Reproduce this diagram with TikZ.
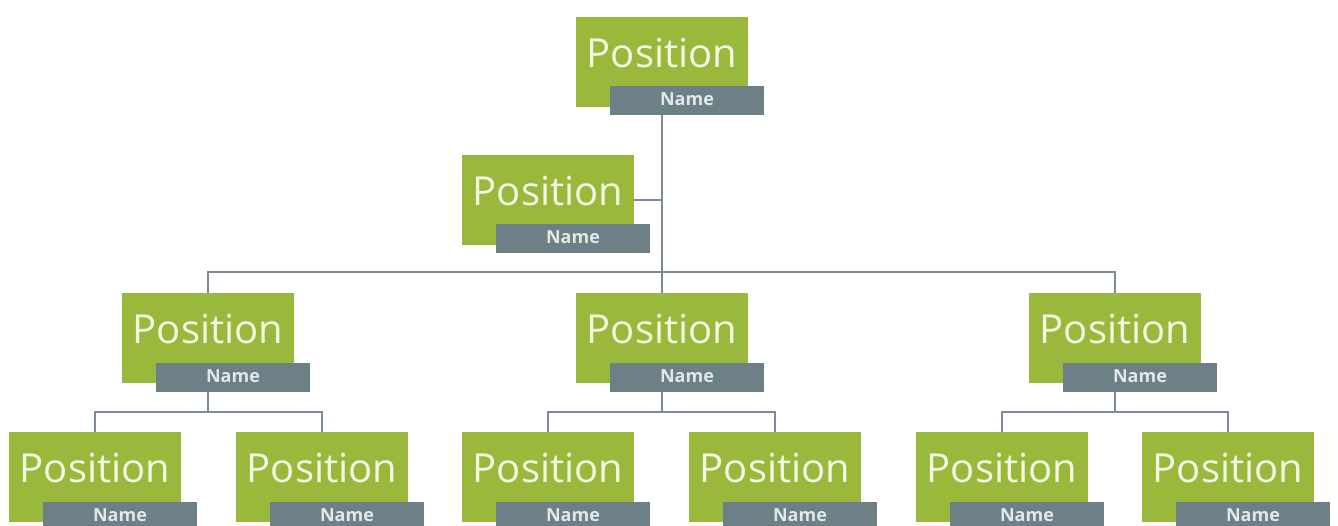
\documentclass[tikz,border=0pt]{standalone}
\usepackage{fontspec}
\setmainfont{Open Sans}
\usetikzlibrary{backgrounds}
\definecolor{posgreen}{HTML}{9AB83C}
\definecolor{postext}{HTML}{F4F7E2}
\definecolor{namegrey}{HTML}{6E8087}
\definecolor{nametext}{HTML}{E2E8E8}
\definecolor{linkgrey}{HTML}{7C8C9C}
\begin{document}
\begin{tikzpicture}[x=1pt,y=-1pt,
    posbox/.style={fill=posgreen, minimum width=172pt, minimum height=90pt,
      inner sep=0pt, text=postext, text depth=18pt,
      font=\fontsize{40}{40}\selectfont},
    namebar/.style={fill=namegrey, minimum width=154pt, minimum height=29pt,
      inner sep=0pt, text=nametext, text depth=3pt,
      font=\fontsize{18}{18}\selectfont\bfseries},
    link/.style={draw=linkgrey, line width=2pt}]
	\useasboundingbox (0,0) rectangle (1338,525);
	\clip (0,0) rectangle (1338,525);
	% top and assistant
	\node[posbox] (top) at (662,62) {Position};
	\node[namebar] (top-name) at ([xshift=25pt,yshift=6.5pt]top.south) {Name};
	\node[posbox] (asst) at (548,200) {Position};
	\node[namebar] (asst-name) at ([xshift=25pt,yshift=6.5pt]asst.south) {Name};
	% middle row
	\foreach \i/\x in {1/208, 2/662, 3/1115} {
		\node[posbox] (mid\i) at (\x,338) {Position};
		\node[namebar] (mid\i-name) at ([xshift=25pt,yshift=6pt]mid\i.south) {Name};
	}
	% bottom row
	\foreach \i/\x in {1/95, 2/322, 3/548, 4/775, 5/1002, 6/1228} {
		\node[posbox] (low\i) at (\x,477) {Position};
		\node[namebar] (low\i-name) at ([xshift=25pt,yshift=6pt]low\i.south) {Name};
	}
	% connectors
	\begin{scope}[on background layer]
		\fill[white] (0,0) rectangle (1338,525);
		\coordinate (busmid) at (0,272);
		\coordinate (buslow) at (0,412);
		\draw[link] (top.center) -- (mid2.center);
		\draw[link] (asst.center) -- (asst -| top);
		\draw[link] (mid1.center) -- (mid1 |- busmid) -- (mid3 |- busmid) -- (mid3.center);
		\foreach \m/\a/\b in {1/1/2, 2/3/4, 3/5/6}
			\draw[link] (mid\m.center) -- (mid\m |- buslow)
				(low\a.center) -- (low\a |- buslow) -- (low\b |- buslow) -- (low\b.center);
	\end{scope}
\end{tikzpicture}
\end{document}
